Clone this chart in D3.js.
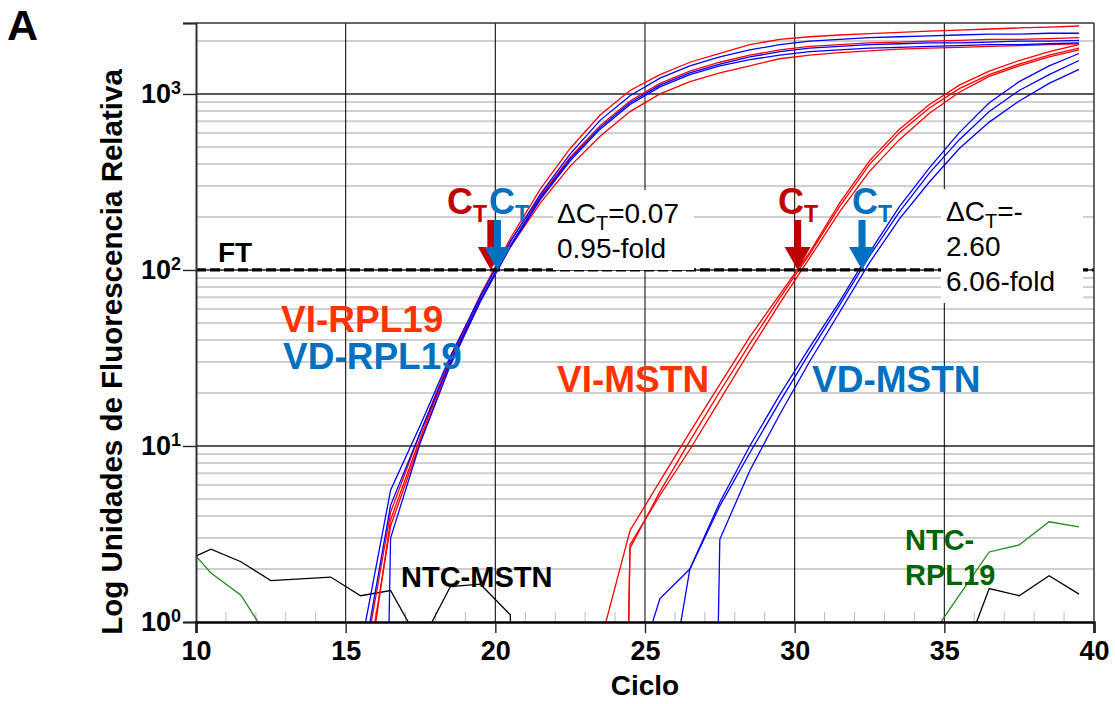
<!DOCTYPE html>
<html>
<head>
<meta charset="utf-8">
<script src="https://cdn.jsdelivr.net/npm/d3@7"></script>
<style>
    body { margin: 0; background: #fff; }
    svg { font-family: "Liberation Sans", Arial, Helvetica, sans-serif; }
</style>
</head>
<body>
<svg id="chart" width="1115" height="704"></svg>
<script>
// Read cycles (the instrument reads at half cycles)
const cycles = [9.5, 10.5, 11.5, 12.5, 13.5, 14.5, 15.5, 16.5, 17.5, 18.5, 19.5, 20.5, 21.5, 22.5, 23.5,
    24.5, 25.5, 26.5, 27.5, 28.5, 29.5, 30.5, 31.5, 32.5, 33.5, 34.5, 35.5, 36.5, 37.5, 38.5, 39.5];

// RFU per well, aligned with cycles. null = no read plotted, 0 = no signal
const viRpl19A = [null, null, null, null, null, null, 0.45, 4.2, 12.0, 31.6, 72, 151, 288, 490, 759, 1047, 1288, 1514, 1698, 1905, 2042, 2113, 2163, 2203, 2239, 2275, 2307, 2339, 2371, 2399, 2432];
const viRpl19B = [null, null, null, null, null, null, 0.25, 3.8, 11.2, 30.9, 70.8, 145, 263, 437, 661, 912, 1148, 1349, 1514, 1660, 1778, 1862, 1905, 1950, 1972, 1995, 2018, 2042, 2042, 2065, 2089];
const viRpl19C = [null, null, null, null, null, null, 0.32, 3.5, 10.7, 29.5, 67.6, 135, 240, 389, 575, 794, 1000, 1175, 1318, 1445, 1585, 1660, 1718, 1758, 1799, 1820, 1841, 1862, 1884, 1905, 1928];

const vdRpl19A = [null, null, null, null, null, null, 0.71, 5.6, 13.2, 32.4, 70.8, 145, 269, 457, 708, 977, 1230, 1445, 1622, 1778, 1905, 1995, 2042, 2089, 2113, 2138, 2163, 2188, 2188, 2213, 2213];
const vdRpl19B = [null, null, null, null, null, null, 0.5, 4.6, 12.0, 30.2, 67.6, 138, 257, 427, 646, 891, 1122, 1318, 1479, 1622, 1738, 1820, 1862, 1905, 1928, 1950, 1950, 1972, 1995, 1995, 2018];
const vdRpl19C = [null, null, null, null, null, null, 0, 3.0, 10.5, 28.8, 66.1, 135, 251, 417, 631, 871, 1096, 1288, 1445, 1567, 1660, 1738, 1778, 1820, 1841, 1862, 1884, 1905, 1905, 1928, 1950];

const viMstnA = [null, null, null, null, null, null, null, null, null, null, null, null, null, null, 0.75, 3.31, 6.31, 12.0, 22.4, 41.7, 72.4, 126, 240, 417, 631, 871, 1122, 1349, 1549, 1738, 1905];
const viMstnB = [null, null, null, null, null, null, null, null, null, null, null, null, null, null, 0, 2.63, 5.50, 10.7, 20.4, 38.0, 69.2, 123, 229, 398, 603, 832, 1072, 1288, 1479, 1660, 1820];
const viMstnC = [null, null, null, null, null, null, null, null, null, null, null, null, null, null, 0, 2.75, 5.25, 9.55, 18.2, 34.7, 64.6, 117, 214, 363, 550, 776, 1023, 1259, 1445, 1622, 1778];

const vdMstnA = [null, null, null, null, null, null, null, null, null, null, null, null, null, null, null, 0.39, 1.36, 2.0, 4.79, 10.0, 19.5, 36.3, 66.1, 126, 229, 380, 603, 891, 1175, 1445, 1698];
const vdMstnB = [null, null, null, null, null, null, null, null, null, null, null, null, null, null, null, null, 0.2, 2.0, 4.57, 9.12, 17.8, 33.9, 63.1, 120, 214, 355, 550, 794, 1047, 1288, 1549];
const vdMstnC = [null, null, null, null, null, null, null, null, null, null, null, null, null, null, null, null, null, 0, 2.95, 7.24, 15.1, 30.2, 57.5, 110, 195, 316, 490, 692, 912, 1148, 1380];

const ntcMstn = [2.17, 2.59, 2.2, 1.72, 1.76, 1.80, 1.41, 1.51, 0.75, 1.59, 1.64, 1.1, 0, 0, 0, 0, 0, 0, 0, 0, 0, 0, 0, 0, 0, 0, 0.55, 1.55, 1.41, 1.83, 1.44];
const ntcRpl19 = [2.95, 1.9, 1.42, 0.77, 0, 0, 0, 0, 0, 0, 0, 0, 0, 0, 0, 0, 0, 0, 0, 0, 0, 0, 0, 0, 0, 0.8, 1.42, 2.5, 2.74, 3.71, 3.47];

// Fluorescence threshold and the Ct of each group
const threshold = 100;
const ctCycles = [19.85, 20.07, 30.1, 32.25];

// Axis ticks
const xTicks = [10, 15, 20, 25, 30, 35, 40];
const yDecades = [0, 1, 2, 3];
const xDomain = [10, 40];
const yDomain = [1, 2530];

const RED = "#ff0000", BLUE = "#0000ff", CT_RED = "#c00000", CT_BLUE = "#0070c0";

const svg = d3.select("#chart");
const plot = { left: 196, right: 1094, top: 23, bottom: 622 };

const x = d3.scaleLinear().domain(xDomain).range([plot.left, plot.right]);
const y = d3.scaleLog().domain(yDomain).range([plot.bottom, plot.top]);

/**
 * Light minor grid, dark major grid.
 */
function drawGrid() {
    const minor = [];
    yDecades.forEach(p => {
        for (let k = 2; k <= 9; k++) {
            const v = k * Math.pow(10, p);
            if (v < yDomain[1]) minor.push(v);
        }
    });
    const g = svg.append("g");
    g.selectAll(".minor-y")
        .data(minor)
        .enter().append("line")
        .attr("x1", plot.left).attr("x2", plot.right)
        .attr("y1", d => y(d)).attr("y2", d => y(d))
        .attr("stroke", "#cfcfcf")
        .attr("stroke-width", 2);

    g.selectAll(".major-y")
        .data(yDecades.slice(1).map(p => Math.pow(10, p)))
        .enter().append("line")
        .attr("x1", plot.left).attr("x2", plot.right)
        .attr("y1", d => y(d)).attr("y2", d => y(d))
        .attr("stroke", "#222")
        .attr("stroke-width", 1.4);

    g.selectAll(".major-x")
        .data(xTicks.slice(1, -1))
        .enter().append("line")
        .attr("x1", d => x(d)).attr("x2", d => x(d))
        .attr("y1", plot.top).attr("y2", plot.bottom)
        .attr("stroke", "#111")
        .attr("stroke-width", 1.1);

    // small inside ticks at every cycle
    g.selectAll(".minor-x")
        .data(d3.range(xDomain[0] + 1, xDomain[1]).filter(c => c % 5 !== 0))
        .enter().append("line")
        .attr("x1", d => x(d)).attr("x2", d => x(d))
        .attr("y1", plot.bottom - 10).attr("y2", plot.bottom)
        .attr("stroke", "#bbb")
        .attr("stroke-width", 1);
}

/**
 * Axes with superscript decade labels.
 */
function drawAxes() {
    const yAxis = svg.append("g")
        .attr("transform", `translate(${plot.left},0)`)
        .call(d3.axisLeft(y).tickValues(yDecades.map(p => Math.pow(10, p)).concat([yDomain[1]])).tickSize(13).tickPadding(2).tickFormat(""));
    yAxis.select(".domain").attr("stroke", "#333").attr("stroke-width", 2);
    yAxis.selectAll(".tick line").attr("stroke", "#222").attr("stroke-width", 1.4);
    yAxis.selectAll(".tick text")
        .attr("font-size", 27)
        .attr("font-weight", "bold")
        .attr("fill", "#000")
        .each(function (d) {
            if (d === yDomain[1]) return;
            const t = d3.select(this);
            t.append("tspan").text("10");
            t.append("tspan").attr("font-size", 18).attr("dy", "-0.5em").text(Math.round(Math.log10(d)));
        });

    const xAxis = svg.append("g")
        .attr("transform", `translate(0,${plot.bottom})`)
        .call(d3.axisBottom(x).tickValues(xTicks).tickSize(11).tickPadding(8));
    xAxis.select(".domain").attr("stroke", "#000").attr("stroke-width", 2.5);
    xAxis.selectAll(".tick line").attr("stroke", "#222").attr("stroke-width", 1.4);
    xAxis.selectAll(".tick text")
        .attr("font-size", 27)
        .attr("font-weight", "bold")
        .attr("fill", "#000");

    // top and right edges of the frame
    svg.append("line")
        .attr("x1", plot.left).attr("x2", plot.right)
        .attr("y1", plot.top).attr("y2", plot.top)
        .attr("stroke", "#333").attr("stroke-width", 1.5);
    svg.append("line")
        .attr("x1", plot.right).attr("x2", plot.right)
        .attr("y1", plot.top).attr("y2", plot.bottom)
        .attr("stroke", "#333").attr("stroke-width", 1.5);

    svg.append("text")
        .attr("x", (plot.left + plot.right) / 2)
        .attr("y", 695)
        .attr("text-anchor", "middle")
        .attr("font-size", 28)
        .attr("font-weight", "bold")
        .text("Ciclo");

    svg.append("text")
        .attr("transform", "rotate(-90)")
        .attr("x", -352)
        .attr("y", 122)
        .attr("text-anchor", "middle")
        .attr("font-size", 29.5)
        .attr("font-weight", "bold")
        .text("Log Unidades de Fluorescencia Relativa");

    svg.append("text")
        .attr("x", 7)
        .attr("y", 40)
        .attr("font-size", 43)
        .attr("font-weight", "bold")
        .text("A");
}

/**
 * One amplification trace per well.
 */
function drawCurves() {
    svg.append("clipPath").attr("id", "plot-clip")
        .append("rect")
        .attr("x", plot.left).attr("y", plot.top)
        .attr("width", plot.right - plot.left)
        .attr("height", plot.bottom - plot.top);

    const wells = [
        { values: ntcRpl19, color: "#1e8c1e" },
        { values: ntcMstn, color: "#000" },
        { values: viRpl19A, color: RED },
        { values: viRpl19B, color: RED },
        { values: viRpl19C, color: RED },
        { values: vdRpl19A, color: BLUE },
        { values: vdRpl19B, color: BLUE },
        { values: vdRpl19C, color: BLUE },
        { values: viMstnA, color: RED },
        { values: viMstnB, color: RED },
        { values: viMstnC, color: RED },
        { values: vdMstnA, color: BLUE },
        { values: vdMstnB, color: BLUE },
        { values: vdMstnC, color: BLUE }
    ];

    const line = d3.line()
        .defined(d => d.v !== null)
        .x(d => x(d.c))
        .y(d => y(Math.max(d.v, 1e-9)));

    svg.append("g")
        .attr("clip-path", "url(#plot-clip)")
        .selectAll("path")
        .data(wells)
        .enter().append("path")
        .attr("d", w => line(cycles.map((c, i) => ({ c, v: w.values[i] }))))
        .attr("fill", "none")
        .attr("stroke", w => w.color)
        .attr("stroke-width", 1.3);
}

/**
 * Threshold line, Ct arrows, fold-change boxes and labels.
 */
function drawAnnotations() {
    svg.append("line")
        .attr("x1", plot.left).attr("x2", plot.right)
        .attr("y1", y(threshold)).attr("y2", y(threshold))
        .attr("stroke", "#000")
        .attr("stroke-width", 3.2)
        .attr("stroke-dasharray", "10,4");

    svg.append("text")
        .attr("x", 218).attr("y", 262)
        .attr("font-size", 28).attr("font-weight", "bold")
        .text("FT");

    // white boxes behind the delta Ct notes
    svg.append("rect").attr("x", 553).attr("y", 190).attr("width", 141).attr("height", 80).attr("fill", "#fff");
    svg.append("rect").attr("x", 941).attr("y", 189).attr("width", 142).attr("height", 114).attr("fill", "#fff");

    const note = (x0, lines) => {
        lines.forEach(l => {
            const t = svg.append("text")
                .attr("x", x0).attr("y", l.y)
                .attr("font-size", 28);
            if (l.delta) {
                t.append("tspan").text("\u0394C");
                t.append("tspan").attr("font-size", 20).attr("dy", 7).text("T");
                t.append("tspan").attr("dy", -7).text(l.text);
            } else {
                t.text(l.text);
            }
        });
    };
    note(557, [{ y: 223, delta: true, text: "=0.07" }, { y: 258, text: "0.95-fold" }]);
    note(946, [{ y: 221, delta: true, text: "=-" }, { y: 256, text: "2.60" }, { y: 291, text: "6.06-fold" }]);

    // Ct arrows pointing at the threshold crossing
    const marks = [
        { cycle: ctCycles[0], color: CT_RED, textX: 447 },
        { cycle: ctCycles[1], color: CT_BLUE, textX: 489 },
        { cycle: ctCycles[2], color: CT_RED, textX: 778 },
        { cycle: ctCycles[3], color: CT_BLUE, textX: 852 }
    ];
    const tipY = y(threshold);
    marks.forEach(m => {
        const cx = x(m.cycle);
        svg.append("path")
            .attr("d", `M${cx - 3.5},${tipY - 50} H${cx + 3.5} V${tipY - 23} H${cx + 13} L${cx},${tipY} L${cx - 13},${tipY - 23} H${cx - 3.5} Z`)
            .attr("fill", m.color);
        const t = svg.append("text")
            .attr("x", m.textX).attr("y", 214)
            .attr("font-size", 36).attr("font-weight", "bold")
            .attr("fill", m.color);
        t.append("tspan").text("C");
        t.append("tspan").attr("font-size", 23).attr("dy", 8).text("T");
    });

    const labels = [
        { text: "VI-RPL19", x: 281, y: 332, size: 37, color: "#ff3300" },
        { text: "VD-RPL19", x: 283, y: 369, size: 37, color: CT_BLUE },
        { text: "VI-MSTN", x: 557, y: 392, size: 37, color: "#ff3300" },
        { text: "VD-MSTN", x: 812, y: 392, size: 37, color: CT_BLUE },
        { text: "NTC-MSTN", x: 401, y: 587, size: 29, color: "#000" },
        { text: "NTC-", x: 905, y: 550, size: 29, color: "#006400" },
        { text: "RPL19", x: 905, y: 585, size: 29, color: "#006400" }
    ];
    svg.selectAll(".curve-label")
        .data(labels)
        .enter().append("text")
        .attr("x", d => d.x).attr("y", d => d.y)
        .attr("font-size", d => d.size)
        .attr("font-weight", "bold")
        .attr("fill", d => d.color)
        .text(d => d.text);
}

drawGrid();
drawCurves();
drawAnnotations();
drawAxes();
</script>
</body>
</html>
